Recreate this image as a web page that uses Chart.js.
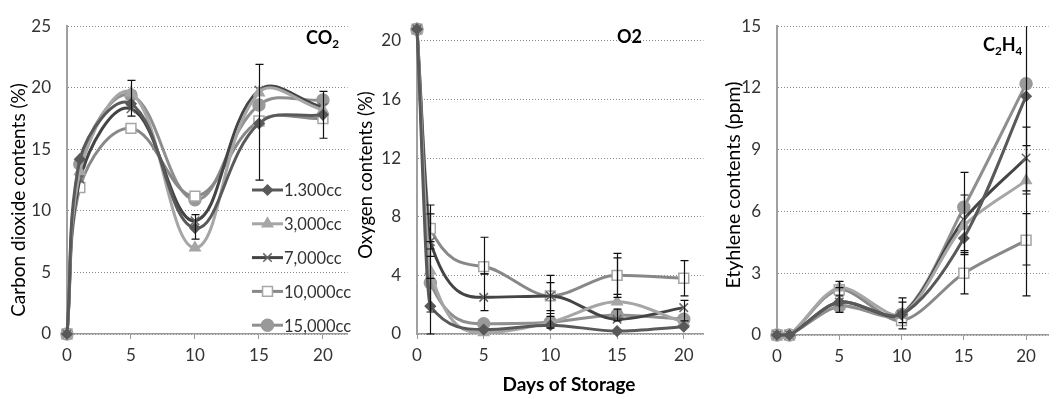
<!DOCTYPE html>
<html lang="en">
<head>
<meta charset="UTF-8">
<title>Gas contents during storage</title>
<script src="https://cdn.jsdelivr.net/npm/chart.js"></script>
<style>
  * { margin: 0; padding: 0; box-sizing: border-box; }
  body { background: #fff; width: 1057px; height: 399px; position: relative; overflow: hidden; }
  .panel { position: absolute; top: 0; height: 399px; }
</style>
</head>
<body>
<div class="panel" style="left:0;width:356px"><canvas id="co2" width="356" height="399"></canvas></div>
<div class="panel" style="left:356px;width:356px"><canvas id="o2" width="356" height="399"></canvas></div>
<div class="panel" style="left:712px;width:345px"><canvas id="c2h4" width="345" height="399"></canvas></div>

<script>
  // sampling days and series
  const days = [0, 1, 5, 10, 15, 20];
  const seriesNames = ['1.300cc', '3,000cc', '7,000cc', '10,000cc', '15,000cc'];
  const xTicks = [0, 5, 10, 15, 20];

  // CO2 (%)
  const co2Ticks = [0, 5, 10, 15, 20, 25];
  const co2_1300 = [0, 14.2, 18.7, 8.6, 17.1, 17.8];
  const co2_3000 = [0, 13.2, 19.6, 7.0, 19.6, 18.2];
  const co2_7000 = [0, 12.6, 18.3, 9.2, 19.8, 18.4];
  const co2_10000 = [0, 11.9, 16.7, 11.2, 17.3, 17.5];
  const co2_15000 = [0, 13.8, 19.4, 10.9, 18.6, 19.0];
  const co2Err = [[5, 17.7, 20.6], [10, 7.7, 9.7], [15, 12.5, 21.9], [20, 15.9, 19.7]];

  // O2 (%)
  const o2Ticks = [0, 4, 8, 12, 16, 20];
  const o2_1300 = [20.8, 1.9, 0.3, 0.6, 0.2, 0.5];
  const o2_3000 = [20.8, 4.3, 0.1, 0.8, 2.2, 0.8];
  const o2_7000 = [20.8, 6.3, 2.5, 2.6, 1.0, 1.8];
  const o2_10000 = [20.8, 7.2, 4.6, 2.6, 4.0, 3.8];
  const o2_15000 = [20.8, 3.5, 0.7, 0.8, 1.3, 1.0];
  const o2Err = [[1, 0, 3.8], [1, 5.8, 8.8], [1, 5.3, 8.2], [1, 1.5, 6.3],
                 [5, 4.1, 6.6], [5, 1.6, 4.1],
                 [10, 1.2, 4.0], [10, 1.6, 3.5], [10, 0.4, 1.4],
                 [15, 2.7, 5.5], [15, 2.5, 5.2], [15, 0.9, 1.7],
                 [20, 2.6, 5.0], [20, 0.9, 2.3]];

  // C2H4 (ppm)
  const c2h4Ticks = [0, 3, 6, 9, 12, 15];
  const c2h4_1300 = [0, 0, 1.6, 1.0, 4.7, 11.6];
  const c2h4_3000 = [0, 0, 2.3, 1.0, 5.3, 7.5];
  const c2h4_7000 = [0, 0, 1.6, 1.0, 5.6, 8.6];
  const c2h4_10000 = [0, 0, 2.2, 0.7, 3.0, 4.6];
  const c2h4_15000 = [0, 0, 1.4, 1.0, 6.2, 12.2];
  const c2h4Err = [[5, 1.1, 2.6], [5, 1.9, 2.3],
                   [10, 0.3, 1.8], [10, 0.6, 1.6],
                   [15, 2.0, 4.0], [15, 4.1, 7.9], [15, 3.9, 6.8],
                   [20, 1.9, 15.5], [20, 3.4, 5.9], [20, 7.0, 10.1], [20, 6.85, 9.2]];

  const FONT = "Lato, 'Open Sans', sans-serif";

  const styles = [
    { line: '#595959', fill: '#595959', edge: '#595959', shape: 'rectRot', r: 5 },
    { line: '#a6a6a6', fill: '#a6a6a6', edge: '#a6a6a6', shape: 'triangle', r: 6 },
    { line: '#444444', fill: '#444444', edge: '#666666', shape: 'crossRot', r: 6 },
    { line: '#888888', fill: '#ffffff', edge: '#a6a6a6', shape: 'rect', r: 7 },
    { line: '#8f8f8f', fill: '#999999', edge: '#999999', shape: 'circle', r: 6 }
  ];

  function makeSets(lists, curve) {
    return lists.map((vals, i) => {
      const s = styles[i];
      return Object.assign({
        label: seriesNames[i],
        data: days.map((d, k) => ({ x: d, y: vals[k] })),
        borderColor: s.line,
        borderWidth: 3,
        pointStyle: s.shape,
        pointRadius: s.r,
        pointHoverRadius: s.r,
        pointBackgroundColor: s.fill,
        pointBorderColor: s.edge,
        pointBorderWidth: 1.5,
        clip: false,
        fill: false
      }, curve);
    });
  }

  const errorBars = {
    id: 'errorBars',
    afterDatasetsDraw(chart, args, opts) {
      const { ctx, chartArea } = chart;
      const xs = chart.scales.x, ys = chart.scales.y;
      ctx.save();
      ctx.beginPath();
      ctx.rect(chartArea.left, chartArea.top, chartArea.right - chartArea.left, chartArea.bottom - chartArea.top + 1);
      ctx.clip();
      ctx.strokeStyle = '#111';
      ctx.lineWidth = 1.2;
      (opts.bars || []).forEach(([x, lo, hi]) => {
        const px = Math.round(xs.getPixelForValue(x)) + 0.5;
        const p1 = ys.getPixelForValue(lo), p2 = ys.getPixelForValue(hi);
        ctx.beginPath();
        ctx.moveTo(px, p1); ctx.lineTo(px, p2);
        ctx.moveTo(px - 4, p1); ctx.lineTo(px + 4, p1);
        ctx.moveTo(px - 4, p2); ctx.lineTo(px + 4, p2);
        ctx.stroke();
      });
      ctx.restore();
    }
  };

  // free text: axis titles and panel labels (parts with sub:true are subscripts)
  const texts = {
    id: 'texts',
    afterDraw(chart, args, opts) {
      const ctx = chart.ctx;
      (opts.items || []).forEach(it => {
        ctx.save();
        ctx.translate(it.x, it.y);
        if (it.rot) ctx.rotate(it.rot);
        ctx.fillStyle = '#000';
        ctx.textBaseline = 'middle';
        const weight = it.bold ? 'bold ' : '';
        const parts = it.parts || [{ t: it.text }];
        let total = 0;
        parts.forEach(p => {
          ctx.font = weight + (p.sub ? it.size * 0.65 : it.size) + 'px ' + FONT;
          total += ctx.measureText(p.t).width;
        });
        let cx = it.align === 'center' ? -total / 2 : 0;
        parts.forEach(p => {
          ctx.font = weight + (p.sub ? it.size * 0.65 : it.size) + 'px ' + FONT;
          ctx.fillText(p.t, cx, p.sub ? it.size * 0.32 : 0);
          cx += ctx.measureText(p.t).width;
        });
        ctx.restore();
      });
    }
  };

  const boxLegend = {
    id: 'boxLegend',
    afterDraw(chart, args, opts) {
      if (!opts.show) return;
      const ctx = chart.ctx;
      chart.data.datasets.forEach((ds, i) => {
        const y = opts.y + i * opts.dy;
        ctx.save();
        ctx.strokeStyle = ds.borderColor;
        ctx.lineWidth = 3;
        ctx.beginPath();
        ctx.moveTo(opts.x, y); ctx.lineTo(opts.x + 31, y);
        ctx.stroke();
        ctx.fillStyle = ds.pointBackgroundColor;
        ctx.strokeStyle = ds.pointBorderColor;
        ctx.lineWidth = ds.pointBorderWidth;
        Chart.helpers.drawPoint(ctx, { pointStyle: ds.pointStyle, radius: ds.pointRadius, rotation: 0, borderWidth: ds.pointBorderWidth }, opts.x + 15.5, y);
        ctx.fillStyle = '#333';
        ctx.font = '16.5px ' + FONT;
        ctx.textBaseline = 'middle';
        ctx.fillText(ds.label, opts.x + 32, y + 1);
        ctx.restore();
      });
    }
  };

  function makeChart(id, sets, cfg) {
    return new Chart(document.getElementById(id), {
      type: 'line',
      data: { datasets: sets },
      plugins: [errorBars, texts, boxLegend],
      options: {
        responsive: false,
        animation: false,
        layout: { padding: { left: 0, right: cfg.padRight, top: cfg.padTop, bottom: 0 } },
        plugins: {
          legend: { display: false },
          tooltip: { enabled: false },
          errorBars: { bars: cfg.err },
          texts: { items: cfg.texts },
          boxLegend: cfg.legend || { show: false }
        },
        scales: {
          x: {
            type: 'linear',
            min: 0,
            max: cfg.xMax,
            afterBuildTicks: s => { s.ticks = xTicks.map(v => ({ value: v })); },
            afterFit: s => { s.height = cfg.xHeight; },
            grid: { drawOnChartArea: false, drawTicks: true, tickLength: 5, color: '#999' },
            border: { color: '#999', width: 1.5 },
            ticks: { color: '#333', padding: 6, font: { family: FONT, size: 17 }, maxRotation: 0 }
          },
          y: {
            min: 0,
            max: cfg.yMax,
            afterBuildTicks: s => { s.ticks = cfg.yTicks.map(v => ({ value: v })); },
            afterFit: s => { s.width = cfg.yWidth; },
            grid: { drawTicks: false, color: '#8a8a8a', lineWidth: 1 },
            border: { color: '#a0a0a0', width: 2, dash: [1, 2] },
            ticks: { color: '#333', padding: 16, font: { family: FONT, size: 17 } }
          }
        }
      }
    });
  }

  makeChart('co2', makeSets([co2_1300, co2_3000, co2_7000, co2_10000, co2_15000], { tension: 0.4 }), {
    padRight: 4, padTop: 16, xHeight: 65, yWidth: 67, xMax: 21.92, yMax: 25, yTicks: co2Ticks, err: co2Err,
    legend: { show: true, x: 252, y: 190, dy: 33.8 },
    texts: [
      { text: 'Carbon dioxide contents (%)', x: 19, y: 200, rot: -Math.PI / 2, size: 19, align: 'center' },
      { parts: [{ t: 'CO' }, { t: '2', sub: true }], x: 306, y: 38, size: 18, bold: true }
    ]
  });

  makeChart('o2', makeSets([o2_1300, o2_3000, o2_7000, o2_10000, o2_15000], { cubicInterpolationMode: 'monotone' }), {
    padRight: 4, padTop: 15, xHeight: 65, yWidth: 61, xMax: 21.48, yMax: 21, yTicks: o2Ticks, err: o2Err,
    texts: [
      { text: 'Oxygen contents (%)', x: 10, y: 175, rot: -Math.PI / 2, size: 18.5, align: 'center' },
      { text: 'O2', x: 261, y: 37, size: 18, bold: true },
      { text: 'Days of Storage', x: 213, y: 385, size: 19, bold: true, align: 'center' }
    ]
  });

  makeChart('c2h4', makeSets([c2h4_1300, c2h4_3000, c2h4_7000, c2h4_10000, c2h4_15000], { tension: 0.3 }), {
    padRight: 0, padTop: 16, xHeight: 64, yWidth: 65, xMax: 21.8, yMax: 15, yTicks: c2h4Ticks, err: c2h4Err,
    texts: [
      { text: 'Etyhlene contents (ppm)', x: 22, y: 185, rot: -Math.PI / 2, size: 19.5, align: 'center' },
      { parts: [{ t: 'C' }, { t: '2', sub: true }, { t: 'H' }, { t: '4', sub: true }], x: 271, y: 45, size: 18, bold: true }
    ]
  });
</script>
</body>
</html>
